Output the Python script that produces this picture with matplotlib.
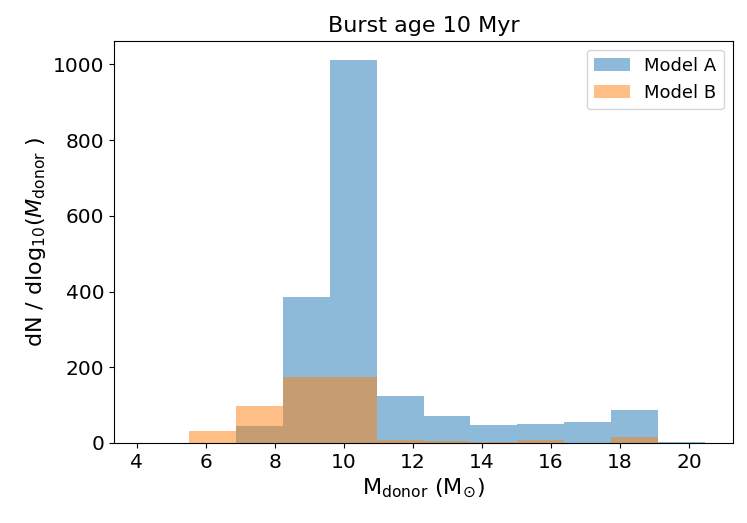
import numpy as np
import matplotlib
matplotlib.use("Agg")
import matplotlib.pyplot as plt

bin_edges = np.linspace(4.17, 20.45, 13)
model_a = [0, 0, 44, 387, 1012, 123, 70, 47, 49, 55, 88, 3]
model_b = [0, 31, 97, 175, 175, 9, 5, 3, 9, 1, 16, 0]

centers = 0.5 * (bin_edges[:-1] + bin_edges[1:])

fig = plt.figure(figsize=(7.47, 5.23), dpi=100)
ax = fig.add_axes([0.153, 0.153, 0.828, 0.769])
ax.hist(centers, bins=bin_edges, weights=model_a, alpha=0.5, color="tab:blue", label="Model A")
ax.hist(centers, bins=bin_edges, weights=model_b, alpha=0.5, color="tab:orange", label="Model B")

ax.set_xticks([4, 6, 8, 10, 12, 14, 16, 18, 20])
ax.set_yticks([0, 200, 400, 600, 800, 1000])
ax.tick_params(labelsize=14.5)
ax.set_xlabel(r"M$_{\mathrm{donor}}$ (M$_{\odot}$)", fontsize=16)
ax.set_ylabel(r"dN / dlog$_{10}$($M_{\mathrm{donor}}$ )", fontsize=16)
ax.set_title("Burst age 10 Myr", fontsize=16)
ax.legend(fontsize=13, loc="upper right")

fig.savefig("out.png", dpi=100)
